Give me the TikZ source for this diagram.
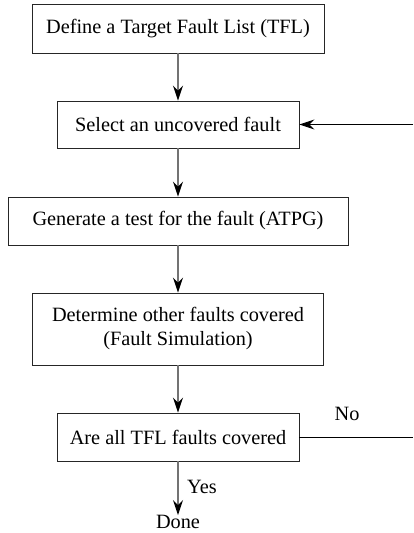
\documentclass[tikz,border=0pt]{standalone}
\usepackage{fontspec}
\setmainfont{Liberation Serif}
\usetikzlibrary{arrows.meta}
\begin{document}
\begin{tikzpicture}[x=1pt,y=-1pt,
  stepbox/.style={draw=black!85, line width=0.9pt, rectangle, inner sep=0pt,
    align=center, font=\fontsize{20.3}{24}\selectfont},
  tip/.style={-{Stealth[black, length=15pt, width=10pt, inset=5pt]}},
  flow/.style={draw=black!55, line width=1.4pt, tip},
  loop/.style={draw=black, line width=0.9pt},
  lbl/.style={font=\fontsize{20.3}{24}\selectfont, inner sep=0pt}]
\useasboundingbox (0,0) rectangle (413,533);

\node[stepbox, minimum width=292pt, minimum height=49pt] (tfl) at (178,28.5)
  {Define a Target Fault List (TFL)};
\node[stepbox, minimum width=242pt, minimum height=47pt] (sel) at (178,124.5)
  {Select an uncovered fault};
\node[stepbox, minimum width=340pt, minimum height=48pt] (gen) at (178,221)
  {Generate a test for the fault (ATPG)};
\node[stepbox, minimum width=291pt, minimum height=72pt] (sim) at (178,329)
  {Determine other faults covered\\(Fault Simulation)};
\node[stepbox, minimum width=242pt, minimum height=48pt] (chk) at (178,437)
  {Are all TFL faults covered};

\node[lbl] (done) at (178,522) {Done};
\node[lbl, anchor=west] (yes) at (187,487) {Yes};
\node[lbl] (no) at (347,414) {No};

\coordinate (noend) at (413,437);
\coordinate (backin) at (413,124.5);

\draw[flow] (tfl) -- (sel);
\draw[flow] (sel) -- (gen);
\draw[flow] (gen) -- (sim);
\draw[flow] (sim) -- (chk);
\draw[flow] (chk) -- (done);

\draw[loop] (chk.east) -- (noend);
\draw[loop, tip] (backin) -- (sel.east);
\end{tikzpicture}
\end{document}
